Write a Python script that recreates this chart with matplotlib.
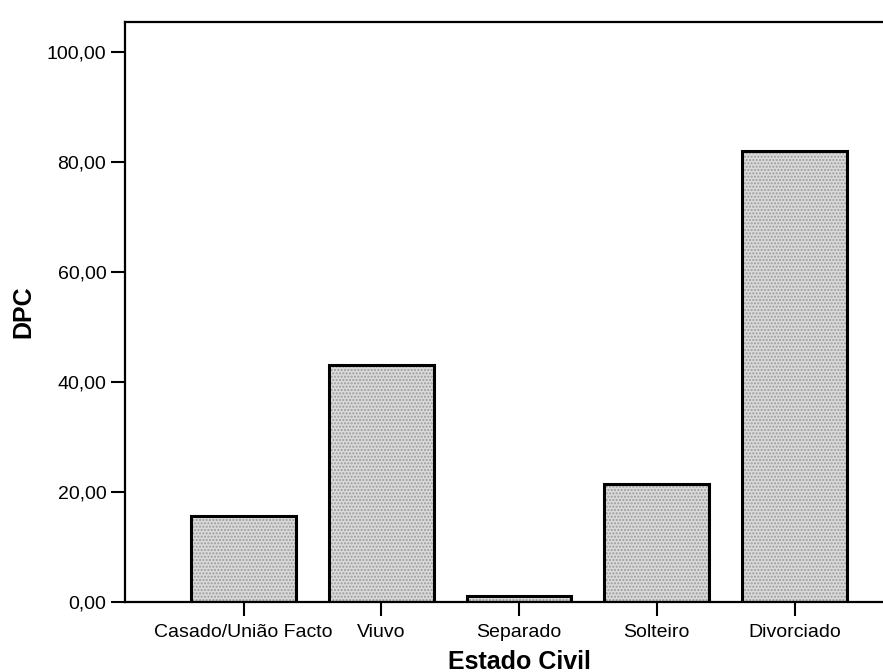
import matplotlib
matplotlib.use("Agg")
import matplotlib.pyplot as plt
import numpy as np

# data
categories = ["Casado/União Facto", "Viuvo", "Separado", "Solteiro", "Divorciado"]
dpc = [15.7, 43.0, 1.0, 21.4, 82.0]
y_ticks = [0, 20, 40, 60, 80, 100]

plt.rcParams['font.family'] = ['Liberation Sans', 'DejaVu Sans']

fig = plt.figure(figsize=(8.83, 6.72), dpi=100)
# axes runs a bit past the right edge, as in the cropped scan
ax = fig.add_axes([0.1416, 0.1042, 0.8924, 0.8631])

x = np.arange(len(categories))
# stippled grey fill, then black outline on top
ax.bar(x, dpc, width=0.76, color='#dadada', edgecolor='#9a9a9a',
       hatch='.....', linewidth=0, zorder=2)
ax.bar(x, dpc, width=0.76, fill=False, edgecolor='black', linewidth=2.2, zorder=3)

ax.set_xlim(-0.86, 4.86)
ax.set_ylim(0, 105.4)
ax.set_yticks(y_ticks)
ax.set_yticklabels([f"{v:.2f}".replace('.', ',') for v in y_ticks], fontsize=14)
ax.set_xticks(x)
ax.set_xticklabels(categories, fontsize=14)

ax.tick_params(axis='both', length=10, width=1.5, color='black')
ax.tick_params(axis='y', pad=3.5)
ax.tick_params(axis='x', pad=6)

for s in ['left', 'bottom', 'top']:
    ax.spines[s].set_linewidth(1.6)
ax.spines['right'].set_visible(False)

ax.set_ylabel('DPC', fontsize=18, fontweight='bold', labelpad=8)
ax.set_xlabel('Estado Civil', fontsize=18, fontweight='bold', labelpad=6)

fig.savefig('out.png', dpi=100)
